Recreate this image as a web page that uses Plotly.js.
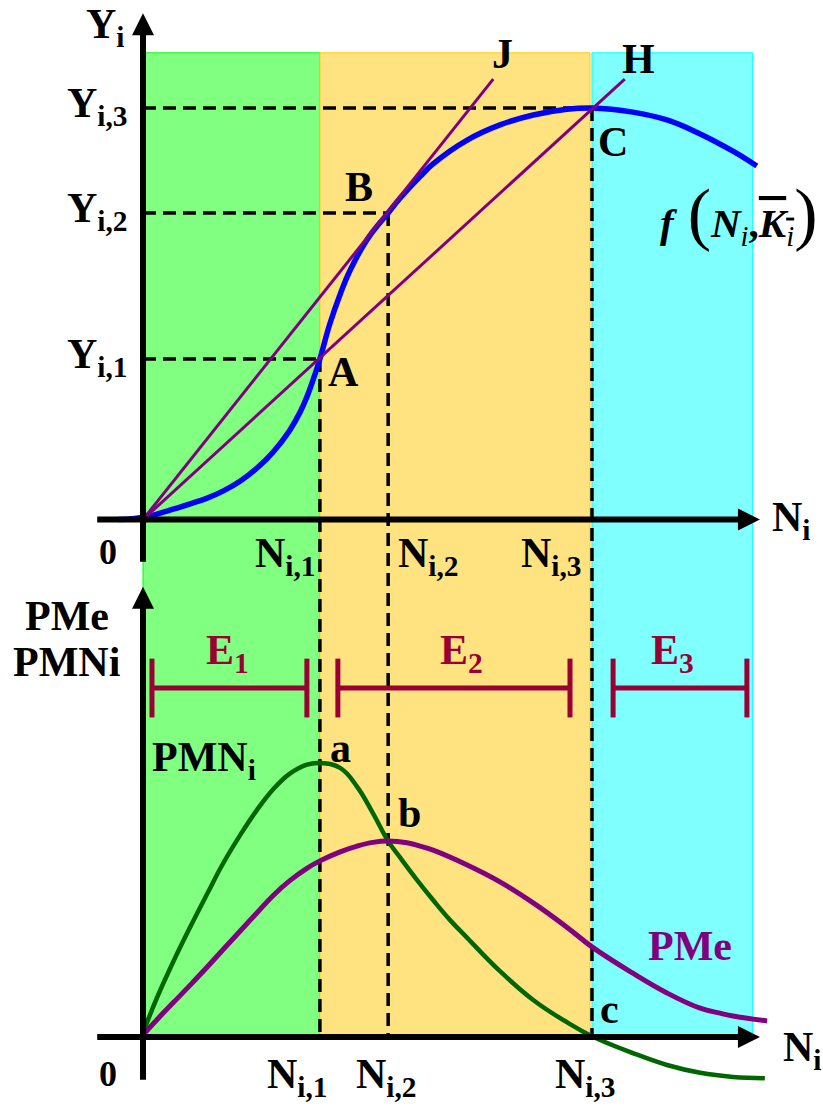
<!DOCTYPE html>
<html><head><meta charset="utf-8">
<script src="https://cdn.plot.ly/plotly-3.0.1.min.js"></script>
<style>html,body{margin:0;padding:0;background:#fff;overflow:hidden}</style>
</head><body><div id="chart" style="width:823px;height:1107px"></div>
<script>
// ---------- data ----------
// key levels of labour N_i and output Y_i
const N_KEY = [3.94, 5.46, 10.0];          // N_i,1  N_i,2  N_i,3
const Y_KEY = [3.9, 7.45, 10.0];           // Y_i,1  Y_i,2  Y_i,3
const N_TICK_LABELS = ['N<sub>i,1</sub>', 'N<sub>i,2</sub>', 'N<sub>i,3</sub>'];
const Y_TICK_LABELS = ['Y<sub>i,1</sub>', 'Y<sub>i,2</sub>', 'Y<sub>i,3</sub>'];
const TOP_POINT_LABELS = ['A', 'B', 'C'];
const BOTTOM_POINT_LABELS = ['a', 'b', 'c'];

// production function f(N_i, K_i)
const PF_N = [-0.55, 0, 0.31, 0.67, 1.05, 1.43, 1.78, 2.16, 2.54, 2.90, 3.27, 3.5, 3.65, 3.79, 3.94, 4.16, 4.4, 4.61, 4.99, 5.46, 5.72, 6.17, 6.46, 7.22, 7.95, 8.69, 9.44, 10.0, 10.91, 11.67, 12.41, 13.14, 13.67];
const PF_Y = [0, 0.05, 0.13, 0.25, 0.38, 0.52, 0.69, 0.93, 1.25, 1.64, 2.17, 2.61, 2.98, 3.40, 3.9, 4.75, 5.5, 6.05, 6.8, 7.45, 7.8, 8.33, 8.64, 9.22, 9.59, 9.83, 9.97, 10.0, 9.90, 9.71, 9.37, 8.95, 8.59];

// rays from the origin (J tangent at B, H through A and C)
const RAY_LABELS = ['J', 'H'];
const RAY_N_END = [7.8, 10.73];
const RAY_Y_END = [10.7, 10.7];

// marginal product PMN_i
const PMN_N = [0, 0.31, 0.67, 1.05, 1.43, 1.78, 2.16, 2.54, 2.90, 3.27, 3.65, 3.94, 4.39, 4.77, 5.12, 5.46, 5.72, 6.1, 6.46, 6.84, 7.22, 7.95, 8.69, 9.44, 10.0, 10.91, 11.67, 12.41, 13.14, 13.85];
const PMN_V = [0.1, 0.95, 1.82, 2.67, 3.48, 4.21, 4.9, 5.52, 6.02, 6.4, 6.62, 6.66, 6.54, 6.08, 5.44, 4.76, 4.37, 3.82, 3.33, 2.84, 2.41, 1.6, 0.9, 0.36, 0.02, -0.39, -0.68, -0.87, -0.97, -1.0];

// average product PMe
const PME_N = [0, 0.31, 0.67, 1.05, 1.43, 1.78, 2.16, 2.54, 2.90, 3.27, 3.65, 3.94, 4.39, 4.77, 5.12, 5.46, 5.88, 6.17, 6.46, 7.22, 7.95, 8.69, 9.44, 10.0, 10.91, 11.67, 12.41, 12.85, 13.14, 13.9];
const PME_V = [0.05, 0.42, 0.83, 1.26, 1.70, 2.12, 2.57, 3.02, 3.44, 3.80, 4.10, 4.28, 4.50, 4.64, 4.73, 4.76, 4.72, 4.64, 4.54, 4.18, 3.77, 3.26, 2.67, 2.19, 1.55, 1.07, 0.70, 0.58, 0.51, 0.39];

// stages of production
const STAGE_LABELS = ['E<sub>1</sub>', 'E<sub>2</sub>', 'E<sub>3</sub>'];
const STAGE_START = [0.2, 4.34, 10.47];
const STAGE_END = [3.65, 9.51, 13.45];
const STAGE_LEVEL = 8.48;

// extents of the drawing
const N_AXIS_MIN = -1.02, N_AXIS_MAX = 13.74, BAND_END = 13.58;
const Y_AXIS_MIN = -1.03, Y_AXIS_MAX = 12.3, BAND_TOP = 11.34;
const P_AXIS_MIN = -1.04, P_AXIS_MAX = 10.94;

// ---------- layout helpers ----------
const X_RANGE = [-3.185, 15.145];
const TOP_RANGE = [-14.277, 12.624];
const BOT_RANGE = [-1.701, 25.2];
const toTop = p => p + (TOP_RANGE[0] - BOT_RANGE[0]);   // bottom-panel value -> top-panel units

const FONT = 'Liberation Serif, Times New Roman, serif';
const BLACK = '#000000', PURPLE = '#800080', CRIMSON = '#990033', DKGREEN = '#006600';
const HEAD_LEN_X = 0.49, HEAD_LEN_Y = 0.53;
const SMOOTH = 1.2;

const traces = [];
// production curve
traces.push({x: PF_N, y: PF_Y, mode: 'lines', line: {color: '#0000FF', width: 5.5, shape: 'spline', smoothing: SMOOTH}, xaxis: 'x', yaxis: 'y'});
// rays
RAY_N_END.forEach((n, i) => traces.push({x: [0, n], y: [0, RAY_Y_END[i]], mode: 'lines', line: {color: PURPLE, width: 3}, xaxis: 'x', yaxis: 'y'}));
// PMN and PMe
traces.push({x: PMN_N, y: PMN_V, mode: 'lines', line: {color: DKGREEN, width: 4.5, shape: 'spline', smoothing: SMOOTH}, xaxis: 'x', yaxis: 'y2'});
traces.push({x: PME_N, y: PME_V, mode: 'lines', line: {color: PURPLE, width: 5, shape: 'spline', smoothing: SMOOTH}, xaxis: 'x', yaxis: 'y2'});
// stage brackets
STAGE_START.forEach((s, i) => traces.push({
  x: [s, STAGE_END[i]], y: [STAGE_LEVEL, STAGE_LEVEL], mode: 'lines+markers', xaxis: 'x', yaxis: 'y2',
  line: {color: CRIMSON, width: 5},
  marker: {symbol: 'line-ns', size: 42, color: CRIMSON, line: {color: CRIMSON, width: 5}}
}));
// axes (both panels)
const axisLine = (x, y, ya) => ({x, y, mode: 'lines', line: {color: BLACK, width: 6}, xaxis: 'x', yaxis: ya});
traces.push(axisLine([0, 0], [Y_AXIS_MIN, Y_AXIS_MAX - HEAD_LEN_Y * 0.75], 'y'));
traces.push(axisLine([N_AXIS_MIN, N_AXIS_MAX - HEAD_LEN_X * 0.75], [0, 0], 'y'));
traces.push(axisLine([0, 0], [P_AXIS_MIN, P_AXIS_MAX - HEAD_LEN_Y * 0.75], 'y2'));
traces.push(axisLine([N_AXIS_MIN, N_AXIS_MAX - HEAD_LEN_X * 0.75], [0, 0], 'y2'));
traces.push({x: [0, N_AXIS_MAX], y: [Y_AXIS_MAX, 0], mode: 'markers', xaxis: 'x', yaxis: 'y',
  marker: {symbol: ['arrow-up', 'arrow-right'], size: 22, color: BLACK, line: {width: 0}}});
traces.push({x: [0, N_AXIS_MAX], y: [P_AXIS_MAX, 0], mode: 'markers', xaxis: 'x', yaxis: 'y2',
  marker: {symbol: ['arrow-up', 'arrow-right'], size: 22, color: BLACK, line: {width: 0}}});

// ---------- shapes ----------
const shapes = [];
const bandEdges = [[0, N_KEY[0]], [N_KEY[0], N_KEY[2] - 0.045], [N_KEY[2], BAND_END]];
const bandFill = ['#80FF80', '#FFE381', '#80FFFF'];
const bandLine = ['#00FF00', '#FFCC00', '#00FFFF'];
bandEdges.forEach((e, i) => shapes.push({type: 'rect', xref: 'x', yref: 'y', layer: 'below',
  x0: e[0], x1: e[1], y0: toTop(0), y1: BAND_TOP, fillcolor: bandFill[i], line: {color: bandLine[i], width: 1}}));
const DASH = {color: BLACK, width: 3.5, dash: '13px,7px'};
N_KEY.forEach((n, i) => {
  shapes.push({type: 'line', xref: 'x', yref: 'y', layer: 'below', x0: 0, x1: n, y0: Y_KEY[i], y1: Y_KEY[i], line: DASH});
  shapes.push({type: 'line', xref: 'x', yref: 'y', layer: 'below', x0: n, x1: n, y0: Y_KEY[i], y1: toTop(0), line: DASH});
});

// ---------- annotations ----------
const ann = [];
const lab = (o) => Object.assign({showarrow: false, borderpad: 0, borderwidth: 0, xref: 'x', yref: 'y',
  font: {family: FONT, size: 42, color: BLACK}}, o);
const B = t => '<b>' + t + '</b>';

// top panel
ann.push(lab({x: 0, y: Y_AXIS_MAX, text: B('Y<sub>i</sub>'), xanchor: 'right', yanchor: 'top', xshift: -18, yshift: 12}));
Y_KEY.forEach((y, i) => ann.push(lab({x: 0, y: y, text: B(Y_TICK_LABELS[i]), xanchor: 'right', yanchor: 'top', xshift: -15, yshift: 28})));
ann.push(lab({x: 0, y: 0, text: B('0'), xanchor: 'center', yanchor: 'top', xshift: -35, yshift: -13, font: {family: FONT, size: 36, color: BLACK}}));
const topNx = [{xanchor: 'right', xshift: -4}, {xanchor: 'left', xshift: 10}, {xanchor: 'right', xshift: -10}];
N_KEY.forEach((n, i) => ann.push(lab(Object.assign({x: n, y: 0, text: B(N_TICK_LABELS[i]), yanchor: 'top', yshift: -11}, topNx[i]))));
ann.push(lab({x: N_AXIS_MAX, y: 0, text: B('N<sub>i</sub>'), xanchor: 'left', yanchor: 'top', xshift: 12, yshift: 25}));
const topPt = [{xshift: 8, yshift: 10}, {xshift: -43, yshift: 49}, {xshift: 6, yshift: -11}];
N_KEY.forEach((n, i) => ann.push(lab(Object.assign({x: n, y: Y_KEY[i], text: B(TOP_POINT_LABELS[i]), xanchor: 'left', yanchor: 'top'}, topPt[i]))));
const rayShift = [{xshift: -1, yshift: 48}, {xshift: -3, yshift: 43}];
RAY_N_END.forEach((n, i) => ann.push(lab(Object.assign({x: n, y: RAY_Y_END[i], text: B(RAY_LABELS[i]), xanchor: 'left', yanchor: 'top'}, rayShift[i]))));
const last = PF_N.length - 1;
ann.push(lab({x: PF_N[last], y: PF_Y[last], xanchor: 'right', yanchor: 'top', xshift: 60, yshift: -9,
  font: {family: FONT, size: 41, color: BLACK},
  text: '<b><i>f</i></b><span style="font-size:70px">\u2009(</span><b><i>N</i></b><i><sub>i</sub></i><b>,</b><span style="text-decoration:overline"><b><i>K</i></b><i><sub>i</sub></i></span><span style="font-size:70px">)</span>'}));

// bottom panel
ann.push(lab({x: 0, y: P_AXIS_MAX, yref: 'y2', text: B('PMe'), xanchor: 'center', yanchor: 'top', xshift: -76, yshift: -6}));
ann.push(lab({x: 0, y: P_AXIS_MAX, yref: 'y2', text: B('PMNi'), xanchor: 'center', yanchor: 'top', xshift: -76, yshift: -52}));
const stageShift = [-2, 8, -8];
STAGE_START.forEach((s, i) => ann.push(lab({x: (s + STAGE_END[i]) / 2, y: STAGE_LEVEL, yref: 'y2', text: B(STAGE_LABELS[i]),
  xanchor: 'center', yanchor: 'bottom', xshift: stageShift[i], yshift: 9, font: {family: FONT, size: 42, color: CRIMSON}})));
ann.push(lab({x: 0, y: PMN_V[11], yref: 'y2', text: B('PMN<sub>i</sub>'), xanchor: 'left', yanchor: 'top', xshift: 9, yshift: 29}));
const botPtY = [PMN_V[11], PME_V[15], 0];
const botPt = [{xshift: 10, yshift: 38}, {xshift: 10, yshift: 51}, {xshift: 8, yshift: 51}];
N_KEY.forEach((n, i) => ann.push(lab(Object.assign({x: n, y: botPtY[i], yref: 'y2', text: B(BOTTOM_POINT_LABELS[i]), xanchor: 'left', yanchor: 'top'}, botPt[i]))));
ann.push(lab({x: N_KEY[2], y: PME_V[23], yref: 'y2', text: B('PMe'), xanchor: 'left', yanchor: 'top', xshift: 56, yshift: 24, font: {family: FONT, size: 42, color: PURPLE}}));
ann.push(lab({x: 0, y: 0, yref: 'y2', text: B('0'), xanchor: 'center', yanchor: 'top', xshift: -35, yshift: -17, font: {family: FONT, size: 36, color: BLACK}}));
const botNx = [{xanchor: 'right', xshift: 8}, {xanchor: 'center', xshift: -2}, {xanchor: 'center', xshift: -6}];
N_KEY.forEach((n, i) => ann.push(lab(Object.assign({x: n, y: 0, yref: 'y2', text: B(N_TICK_LABELS[i]), yanchor: 'top', yshift: -14}, botNx[i]))));
ann.push(lab({x: N_AXIS_MAX, y: 0, yref: 'y2', text: B('N<sub>i</sub>'), xanchor: 'left', yanchor: 'top', xshift: 23, yshift: 13}));

const layout = {
  width: 823, height: 1107, autosize: false,
  margin: {l: 0, r: 0, t: 0, b: 0, pad: 0},
  paper_bgcolor: '#ffffff', plot_bgcolor: '#ffffff',
  showlegend: false, hovermode: false,
  xaxis: {range: X_RANGE, visible: false, fixedrange: true},
  yaxis: {range: TOP_RANGE, visible: false, fixedrange: true},
  yaxis2: {range: BOT_RANGE, visible: false, fixedrange: true, overlaying: 'y', anchor: 'x'},
  shapes: shapes, annotations: ann
};
Plotly.newPlot('chart', traces, layout, {staticPlot: true, displayModeBar: false});
</script></body></html>
